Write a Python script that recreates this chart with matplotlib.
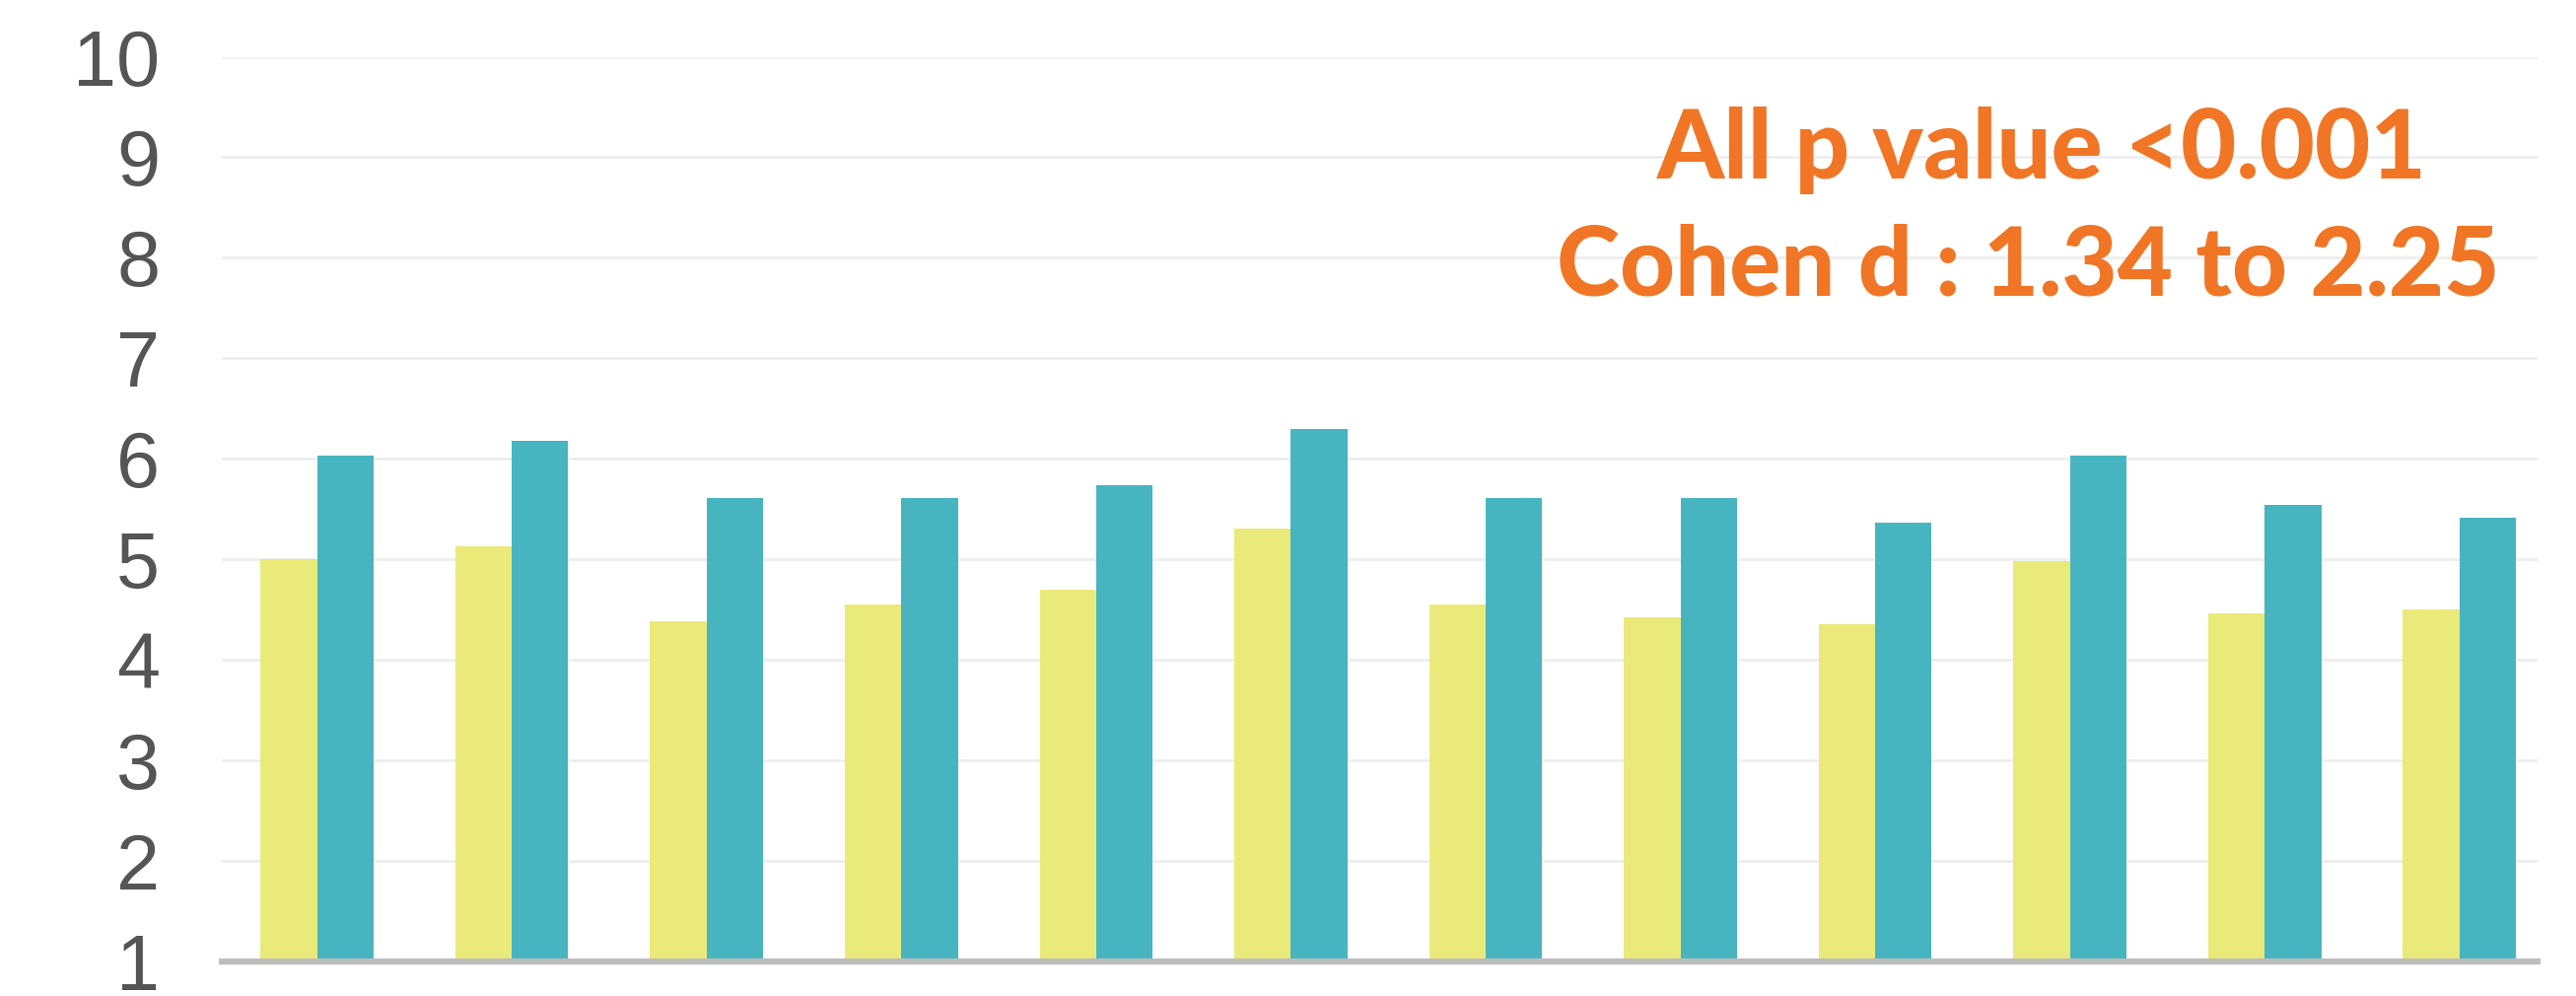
import matplotlib.pyplot as plt
import numpy as np

# valores
groups = list(range(1, 13))
before = [5.0, 5.13, 4.38, 4.55, 4.70, 5.30, 4.55, 4.42, 4.35, 4.98, 4.46, 4.50]
after = [6.03, 6.18, 5.61, 5.61, 5.74, 6.30, 5.61, 5.61, 5.36, 6.03, 5.54, 5.41]
yticks = [1, 2, 3, 4, 5, 6, 7, 8, 9, 10]
note_lines = ['All p value <0.001', 'Cohen d : 1.34 to 2.25']

fig = plt.figure(figsize=(26.13, 10.10), dpi=100)
ax = fig.add_axes([0.086, 0.035, 0.899, 0.908])

x = np.arange(len(groups))
w = 0.29
ax.bar(x - w/2, np.array(before) - 1, w, bottom=1, color='#EAEA7A', zorder=2)
ax.bar(x + w/2, np.array(after) - 1, w, bottom=1, color='#47B5C0', zorder=2)

ax.set_ylim(1, 10)
ax.set_xlim(-0.49, 11.4)
ax.set_yticks(yticks)
ax.set_yticklabels([str(t) for t in yticks], fontsize=57, color='#555555',
                   family='Liberation Sans')
ax.tick_params(axis='y', length=0, pad=45)
ax.set_xticks([])
ax.grid(axis='y', color='#EEEEEE', linewidth=2, zorder=0)
for s in ['top', 'right', 'left']:
    ax.spines[s].set_visible(False)
ax.spines['bottom'].set_color('#BDBDBD')
ax.spines['bottom'].set_linewidth(4.5)
ax.spines['bottom'].set_zorder(3)

ax.text(0.786, 0.896, note_lines[0], transform=ax.transAxes, ha='center', va='center',
        fontsize=70, fontweight='black', color='#F07625', family='Lato')
ax.text(0.780, 0.767, note_lines[1], transform=ax.transAxes, ha='center', va='center',
        fontsize=70, fontweight='black', color='#F07625', family='Lato')

plt.savefig('out.png', dpi=100, facecolor='white')
